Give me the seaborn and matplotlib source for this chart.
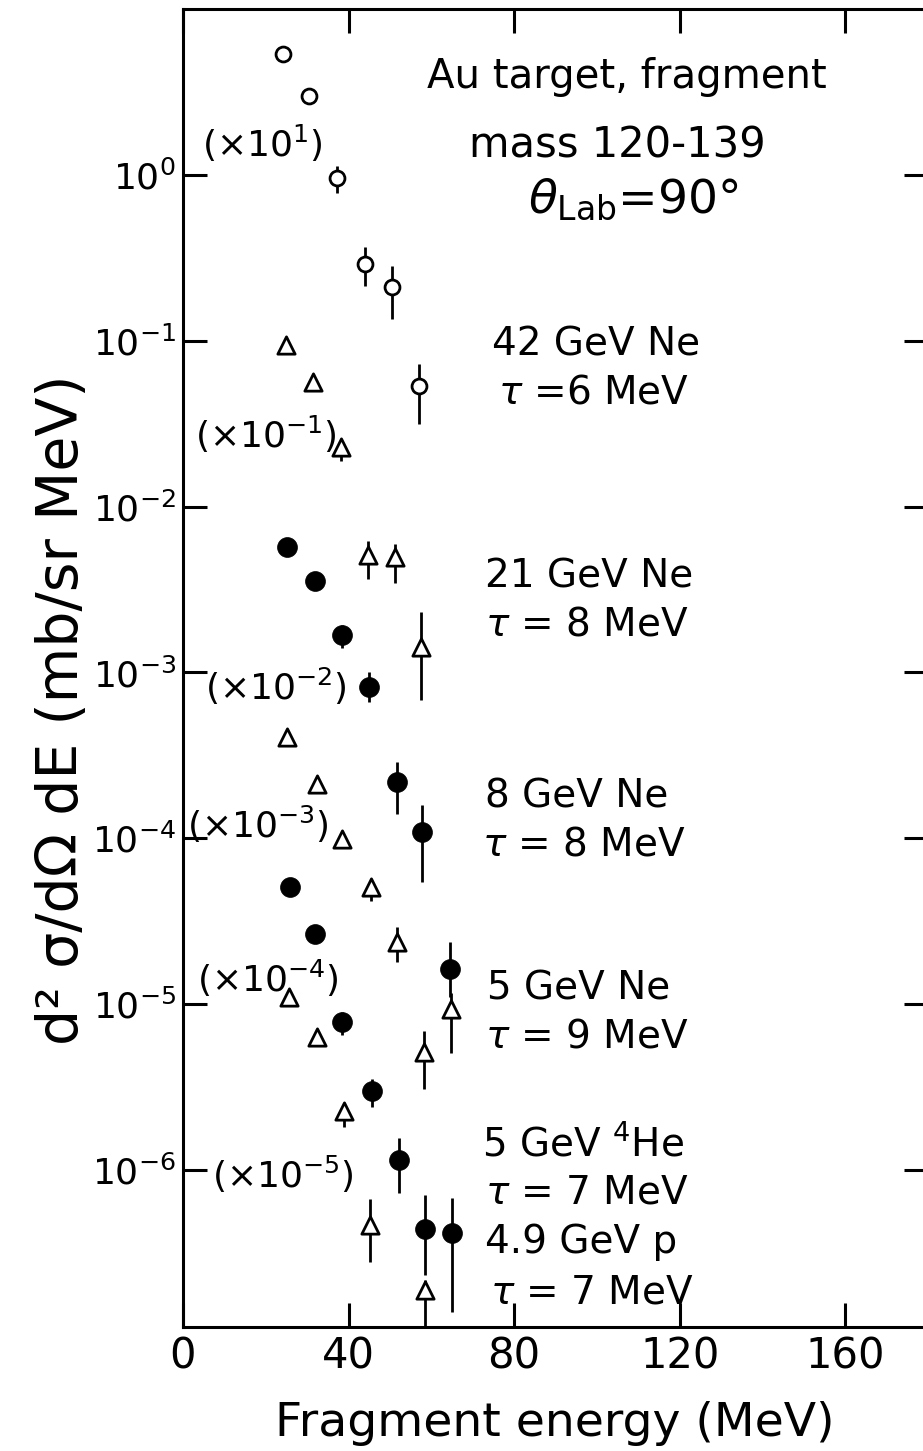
import numpy as np
import matplotlib
matplotlib.use("Agg")
import matplotlib.pyplot as plt
from matplotlib.ticker import NullLocator, FixedLocator
import seaborn as sns

nan = np.nan

# ---------------- data ----------------
# 42 GeV Ne (x10^1), open circles
e_ne42 = [24.1, 30.5, 37.2, 43.9, 50.4, 57.0]
s_ne42 = [5.38, 2.99, 0.96, 0.29, 0.211, 0.0536]
lo_ne42 = [nan, nan, 0.78, 0.214, 0.136, 0.0315]
hi_ne42 = [nan, nan, 1.13, 0.365, 0.283, 0.0724]

# 21 GeV Ne (x10^-1), open triangles
e_ne21 = [25.0, 31.3, 38.1, 44.7, 51.2, 57.6]
s_ne21 = [0.094, 0.056, 0.0228, 0.00507, 0.00495, 0.00142]
lo_ne21 = [nan, nan, 0.0189, 0.00367, 0.00344, 0.000678]
hi_ne21 = [nan, nan, 0.025, 0.00618, 0.00598, 0.00231]

# 8 GeV Ne (x10^-2), filled circles
e_ne8 = [25.2, 31.9, 38.3, 45.0, 51.6, 57.8, 64.5]
s_ne8 = [0.00574, 0.00358, 0.00167, 8.2e-4, 2.18e-4, 1.09e-4, 1.62e-5]
lo_ne8 = [nan, nan, 0.0014, 6.62e-4, 1.41e-4, 5.45e-5, 1.1e-5]
hi_ne8 = [nan, nan, 0.00192, 1.0e-3, 2.88e-4, 1.58e-4, 2.37e-5]

# 5 GeV Ne (x10^-3), open triangles
e_ne5 = [25.1, 32.3, 38.5, 45.4, 51.8, 58.2, 64.8]
s_ne5 = [4.1e-4, 2.13e-4, 9.96e-5, 5.1e-5, 2.37e-5, 5.12e-6, 9.3e-6]
lo_ne5 = [nan, nan, nan, 4.19e-5, 1.8e-5, 3.06e-6, 5.07e-6]
hi_ne5 = [nan, nan, nan, 5.6e-5, 2.92e-5, 6.9e-6, 1.16e-5]

# 5 GeV 4He (x10^-4), filled circles
e_he5 = [25.8, 31.9, 38.4, 45.6, 52.2, 58.5, 65.1]
s_he5 = [5.09e-5, 2.63e-5, 7.76e-6, 2.99e-6, 1.15e-6, 4.4e-7, 4.19e-7]
lo_he5 = [nan, nan, 6.5e-6, 2.4e-6, 7.3e-7, 2.33e-7, 1.4e-7]
hi_he5 = [nan, nan, 9.0e-6, 3.53e-6, 1.55e-6, 7.07e-7, 6.8e-7]

# 4.9 GeV p (x10^-5), open triangles
e_p49 = [25.7, 32.3, 38.9, 45.2, 58.4]
s_p49 = [1.10e-5, 6.35e-6, 2.27e-6, 4.67e-7, 1.89e-7]
lo_p49 = [nan, nan, 1.82e-6, 2.77e-7, 5e-8]
hi_p49 = [nan, nan, 2.5e-6, 6.67e-7, 2.17e-7]

x_ticks = [0, 40, 80, 120, 160]
x_tick_labels = ["0", "40", "80", "120", "160"]
y_ticks = [1e0, 1e-1, 1e-2, 1e-3, 1e-4, 1e-5, 1e-6]
y_tick_labels = [r"$10^{0}$", r"$10^{-1}$", r"$10^{-2}$", r"$10^{-3}$",
                 r"$10^{-4}$", r"$10^{-5}$", r"$10^{-6}$"]

# ---------------- style ----------------
sns.set_style("ticks", {"text.color": "black", "axes.labelcolor": "black",
                        "xtick.color": "black", "ytick.color": "black",
                        "axes.edgecolor": "black"})
plt.rcParams["font.family"] = ["DejaVu Sans"]
plt.rcParams["mathtext.fontset"] = "dejavusans"
plt.rcParams["axes.linewidth"] = 2.2
plt.rcParams["text.color"] = "black"

W, H = 923, 1451
fig = plt.figure(figsize=(W / 100, H / 100), dpi=100)
fig.patch.set_facecolor("white")

def fx(px):
    return px / W

def fy(py):
    return 1 - py / H

ax = fig.add_axes([fx(183), fy(1327), 745 / W, 1318 / H])
ax.set_facecolor("white")
ax.set_yscale("log")
ax.set_xlim(0, 180)
ax.set_ylim(1.13e-7, 10)

series = [
    (e_ne42, s_ne42, lo_ne42, hi_ne42, "o", 115, "white"),
    (e_ne21, s_ne21, lo_ne21, hi_ne21, "^", 155, "white"),
    (e_ne8, s_ne8, lo_ne8, hi_ne8, "o", 205, "black"),
    (e_ne5, s_ne5, lo_ne5, hi_ne5, "^", 155, "white"),
    (e_he5, s_he5, lo_he5, hi_he5, "o", 205, "black"),
    (e_p49, s_p49, lo_p49, hi_p49, "^", 155, "white"),
]

for e, s, lo, hi, mk, size, face in series:
    e_a, lo_a, hi_a = np.array(e), np.array(lo), np.array(hi)
    m = ~np.isnan(lo_a)
    ax.vlines(e_a[m], lo_a[m], hi_a[m], colors="black", linewidth=2.0, zorder=2)
    sns.scatterplot(x=e, y=s, marker=mk, s=size, facecolor=face,
                    edgecolor="black", linewidth=2.0 if face == "white" else 0.5,
                    ax=ax, zorder=3, legend=False)

ax.xaxis.set_major_locator(FixedLocator(x_ticks))
ax.set_xticklabels(x_tick_labels)
ax.yaxis.set_major_locator(FixedLocator(y_ticks))
ax.set_yticklabels(y_tick_labels)
ax.yaxis.set_minor_locator(NullLocator())
ax.xaxis.set_minor_locator(NullLocator())
ax.tick_params(axis="both", which="major", direction="in", length=17, width=2.2,
               top=True, right=True, colors="black", labelcolor="black")
ax.tick_params(axis="x", labelsize=30, pad=6)
ax.tick_params(axis="y", labelsize=26, pad=5)
for sp in ax.spines.values():
    sp.set_color("black")
    sp.set_linewidth(2.2)

ax.set_xlabel("Fragment energy (MeV)", fontsize=34, color="black")
ax.xaxis.label.set_va("baseline")
ax.xaxis.set_label_coords((555 - 183) / 745, -(1436 - 1327) / 1318)
ax.set_ylabel("d² σ/dΩ dE (mb/sr MeV)", fontsize=41, color="black")
ax.yaxis.label.set_va("center")
ax.yaxis.set_label_coords((62 - 183) / 745, 1 - (710 - 9) / 1318)

# header
fig.text(fx(627), fy(88), "Au target, fragment", fontsize=29, ha="center", va="baseline")
fig.text(fx(617), fy(157), "mass 120-139", fontsize=30, ha="center", va="baseline")
fig.text(fx(633), fy(213), r"$\theta_{\mathrm{Lab}}$=90°", fontsize=34, ha="center", va="baseline")

# series annotations
labels = [
    (492, 355, "42 GeV Ne"), (498, 403, r"$\tau$ =6 MeV"),
    (485, 587, "21 GeV Ne"), (485, 635, r"$\tau$ = 8 MeV"),
    (485, 808, "8 GeV Ne"), (482, 856, r"$\tau$ = 8 MeV"),
    (487, 1000, "5 GeV Ne"), (485, 1047, r"$\tau$ = 9 MeV"),
    (482, 1155, "5 GeV $^{4}$He"), (485, 1203, r"$\tau$ = 7 MeV"),
    (485, 1253, "4.9 GeV p"), (490, 1303, r"$\tau$ = 7 MeV"),
]
for xp, yp, t in labels:
    fig.text(fx(xp), fy(yp), t, fontsize=28, ha="left", va="baseline")

mults = [
    (202, 157, r"(×10$^{1}$)"),
    (195, 448, r"(×10$^{-1}$)"),
    (205, 700, r"(×10$^{-2}$)"),
    (187, 838, r"(×10$^{-3}$)"),
    (197, 992, r"(×10$^{-4}$)"),
    (212, 1188, r"(×10$^{-5}$)"),
]
for xp, yp, t in mults:
    fig.text(fx(xp), fy(yp), t, fontsize=26, ha="left", va="baseline")

fig.savefig("out.png", dpi=100, facecolor="white")
